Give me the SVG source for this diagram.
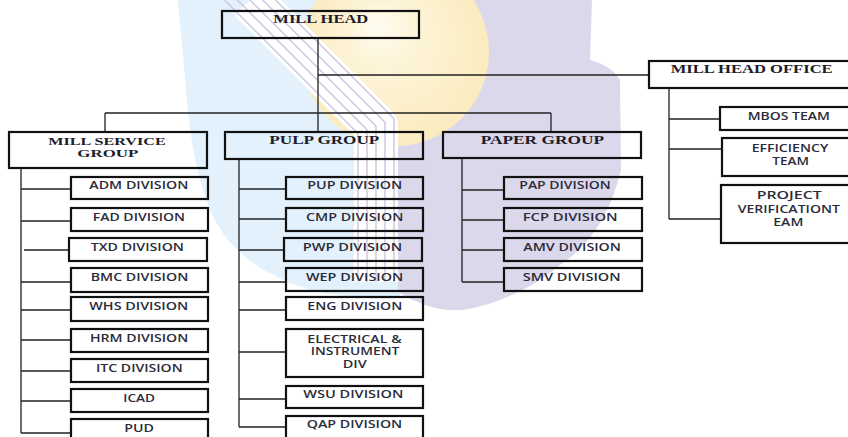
<svg xmlns="http://www.w3.org/2000/svg" width="848" height="437" viewBox="0 0 848 437">
<defs>
<radialGradient id="sun" cx="0.5" cy="0.5" r="0.5" fx="0.4" fy="0.35">
<stop offset="0" stop-color="#fffcf2"/>
<stop offset="0.35" stop-color="#fdf4d8"/>
<stop offset="1" stop-color="#fbebbf"/>
</radialGradient>
<style>
.box{fill:none;stroke:#111;stroke-width:2.2}
.ln{fill:none;stroke:#222;stroke-width:1.3}
.t{font-family:"Liberation Serif","Times New Roman",serif;font-weight:bold;font-size:12px;fill:#1c1c2a}
.d{font-family:"Open Sans","DejaVu Sans",sans-serif;font-weight:600;font-size:10.5px;fill:#2b2b3a}
.m{font-size:10.1px}
.sl{fill:none;stroke:#cbc6e0;stroke-width:1.4}
</style>
</defs>
<rect width="848" height="437" fill="#ffffff"/>
<g id="watermark">
<path fill="#e2f1fb" d="M178,0 L330,0 L400,120 L400,298 C350,300 310,292 283,280 C250,265 228,245 215,220 C198,185 190,140 186,90 C183,50 180,25 178,0 Z"/>
<path fill="#dcd8eb" d="M398,0 L592,0 L590,60 Q612,66 620,80 L621,170 C610,215 590,245 560,265 C530,290 495,305 463,310 C440,312 420,305 398,292 Z"/>
<circle cx="395" cy="52" r="94" fill="url(#sun)"/>
<path d="M250,0 L376,126 L376,282" fill="none" stroke="#ffffff" stroke-width="44" stroke-linejoin="round"/>
<path class="sl" d="M224.5,0 L358,133.5 L358,282"/>
<path class="sl" d="M237.3,0 L367,129.7 L367,282"/>
<path class="sl" d="M250,0 L376,126 L376,282"/>
<path class="sl" d="M262.7,0 L385,122.3 L385,282"/>
<path class="sl" d="M275.5,0 L394,118.5 L394,282"/>
</g>
<g id="connectors" class="ln">
<path d="M318,38 V113 M318,75 H649 M105,113 H551 M105,113 V132 M318,113 V132 M551,113 V132"/>
<path d="M21,168 V433 M21,189 H71 M21,221 H71 M24,250 H69 M21,282 H71 M21,310 H71 M21,340 H71 M21,371 H71 M21,401 H71 M21,433 H71"/>
<path d="M239,159 V427 M239,189 H286 M239,219 H286 M239,250 H284 M239,282 H286 M239,310 H286 M239,352 H286 M239,399 H286 M239,427 H286"/>
<path d="M462,158 V282 M462,190 H504 M462,220 H504 M462,250 H504 M462,282 H504"/>
<path d="M669,88 V219 M669,119 H720 M669,149 H722 M669,219 H721"/>
</g>
<g id="mill-head"><rect class="box" x="222" y="11" width="197" height="27"/><text class="t" style="font-size:13px" x="273.3" y="23.3" textLength="95" lengthAdjust="spacingAndGlyphs">MILL HEAD</text></g>
<g id="mill-head-office"><rect class="box" x="649" y="61" width="203" height="27"/><text class="t" x="670.7" y="73.3" textLength="162" lengthAdjust="spacingAndGlyphs">MILL HEAD OFFICE</text></g>
<g id="mill-service-group"><rect class="box" x="9" y="132" width="198" height="36"/><text class="t" style="font-size:10.8px" x="48.3" y="145" textLength="117.4" lengthAdjust="spacingAndGlyphs">MILL SERVICE</text><text class="t" style="font-size:10.8px" x="77.3" y="156.5" textLength="61" lengthAdjust="spacingAndGlyphs">GROUP</text></g>
<g id="pulp-group"><rect class="box" x="225" y="132" width="198" height="27"/><text class="t" x="269.3" y="144.3" textLength="110" lengthAdjust="spacingAndGlyphs">PULP GROUP</text></g>
<g id="paper-group"><rect class="box" x="443" y="132" width="198" height="26"/><text class="t" x="480.7" y="144" textLength="123.3" lengthAdjust="spacingAndGlyphs">PAPER GROUP</text></g>
<g id="adm"><rect class="box" x="71" y="177" width="137" height="22"/><text class="d" x="89.3" y="189.3" textLength="99" lengthAdjust="spacingAndGlyphs">ADM DIVISION</text></g>
<g id="fad"><rect class="box" x="71" y="208" width="137" height="23"/><text class="d" x="92.7" y="221.3" textLength="92.3" lengthAdjust="spacingAndGlyphs">FAD DIVISION</text></g>
<g id="txd"><rect class="box" x="69" y="238" width="138" height="23"/><text class="d" x="90.7" y="251" textLength="93.3" lengthAdjust="spacingAndGlyphs">TXD DIVISION</text></g>
<g id="bmc"><rect class="box" x="71" y="268" width="137" height="24"/><text class="d" x="90.7" y="280.7" textLength="97.6" lengthAdjust="spacingAndGlyphs">BMC DIVISION</text></g>
<g id="whs"><rect class="box" x="71" y="297" width="137" height="24"/><text class="d" x="89.3" y="310" textLength="99" lengthAdjust="spacingAndGlyphs">WHS DIVISION</text></g>
<g id="hrm"><rect class="box" x="71" y="329" width="137" height="23"/><text class="d" x="90" y="342" textLength="98.3" lengthAdjust="spacingAndGlyphs">HRM DIVISION</text></g>
<g id="itc"><rect class="box" x="71" y="359" width="137" height="23"/><text class="d" x="96" y="372" textLength="86.7" lengthAdjust="spacingAndGlyphs">ITC DIVISION</text></g>
<g id="icad"><rect class="box" x="71" y="389" width="137" height="23"/><text class="d" x="123.3" y="401.7" textLength="31.7" lengthAdjust="spacingAndGlyphs">ICAD</text></g>
<g id="pud"><rect class="box" x="71" y="419" width="137" height="30"/><text class="d" x="124.3" y="431.7" textLength="29.7" lengthAdjust="spacingAndGlyphs">PUD</text></g>
<g id="pup"><rect class="box" x="286" y="177" width="137" height="22"/><text class="d" x="307.3" y="189.3" textLength="95" lengthAdjust="spacingAndGlyphs">PUP DIVISION</text></g>
<g id="cmp"><rect class="box" x="286" y="208" width="137" height="23"/><text class="d" x="306" y="221.3" textLength="97.3" lengthAdjust="spacingAndGlyphs">CMP DIVISION</text></g>
<g id="pwp"><rect class="box" x="284" y="238" width="138" height="23"/><text class="d" x="302.7" y="251" textLength="99.6" lengthAdjust="spacingAndGlyphs">PWP DIVISION</text></g>
<g id="wep"><rect class="box" x="286" y="268" width="137" height="23"/><text class="d" x="306" y="280.7" textLength="97.3" lengthAdjust="spacingAndGlyphs">WEP DIVISION</text></g>
<g id="eng"><rect class="box" x="286" y="297" width="137" height="23"/><text class="d" x="307.3" y="310" textLength="95" lengthAdjust="spacingAndGlyphs">ENG DIVISION</text></g>
<g id="electrical"><rect class="box" x="286" y="329" width="137" height="48"/><text class="d m" x="307.3" y="342.7" textLength="94.4" lengthAdjust="spacingAndGlyphs">ELECTRICAL &amp;</text><text class="d m" x="310.7" y="355.3" textLength="88.6" lengthAdjust="spacingAndGlyphs">INSTRUMENT</text><text class="d m" x="342.7" y="367.9" textLength="24" lengthAdjust="spacingAndGlyphs">DIV</text></g>
<g id="wsu"><rect class="box" x="286" y="386" width="137" height="22"/><text class="d" x="303.3" y="398.3" textLength="100" lengthAdjust="spacingAndGlyphs">WSU DIVISION</text></g>
<g id="qap"><rect class="box" x="286" y="416" width="137" height="30"/><text class="d" x="306.7" y="428.3" textLength="95.6" lengthAdjust="spacingAndGlyphs">QAP DIVISION</text></g>
<g id="pap"><rect class="box" x="504" y="177" width="138" height="22"/><text class="d" x="519.3" y="189" textLength="91.4" lengthAdjust="spacingAndGlyphs">PAP DIVISION</text></g>
<g id="fcp"><rect class="box" x="504" y="208" width="138" height="23"/><text class="d" x="522.7" y="221" textLength="95" lengthAdjust="spacingAndGlyphs">FCP DIVISION</text></g>
<g id="amv"><rect class="box" x="504" y="238" width="138" height="23"/><text class="d" x="523.3" y="250.7" textLength="97.7" lengthAdjust="spacingAndGlyphs">AMV DIVISION</text></g>
<g id="smv"><rect class="box" x="504" y="268" width="138" height="23"/><text class="d" x="522.7" y="280.7" textLength="98" lengthAdjust="spacingAndGlyphs">SMV DIVISION</text></g>
<g id="mbos"><rect class="box" x="720" y="107" width="132" height="23"/><text class="d" x="747.7" y="120" textLength="82.3" lengthAdjust="spacingAndGlyphs">MBOS TEAM</text></g>
<g id="efficiency"><rect class="box" x="722" y="138" width="130" height="38"/><text class="d m" x="751.7" y="152" textLength="76.6" lengthAdjust="spacingAndGlyphs">EFFICIENCY</text><text class="d m" x="772.3" y="165.2" textLength="36.7" lengthAdjust="spacingAndGlyphs">TEAM</text></g>
<g id="project"><rect class="box" x="721" y="185" width="131" height="58"/><text class="d m" x="756.7" y="199.3" textLength="65" lengthAdjust="spacingAndGlyphs">PROJECT</text><text class="d m" x="737.7" y="212.5" textLength="102.3" lengthAdjust="spacingAndGlyphs">VERIFICATIONT</text><text class="d m" x="773.3" y="225.7" textLength="30" lengthAdjust="spacingAndGlyphs">EAM</text></g>
</svg>
